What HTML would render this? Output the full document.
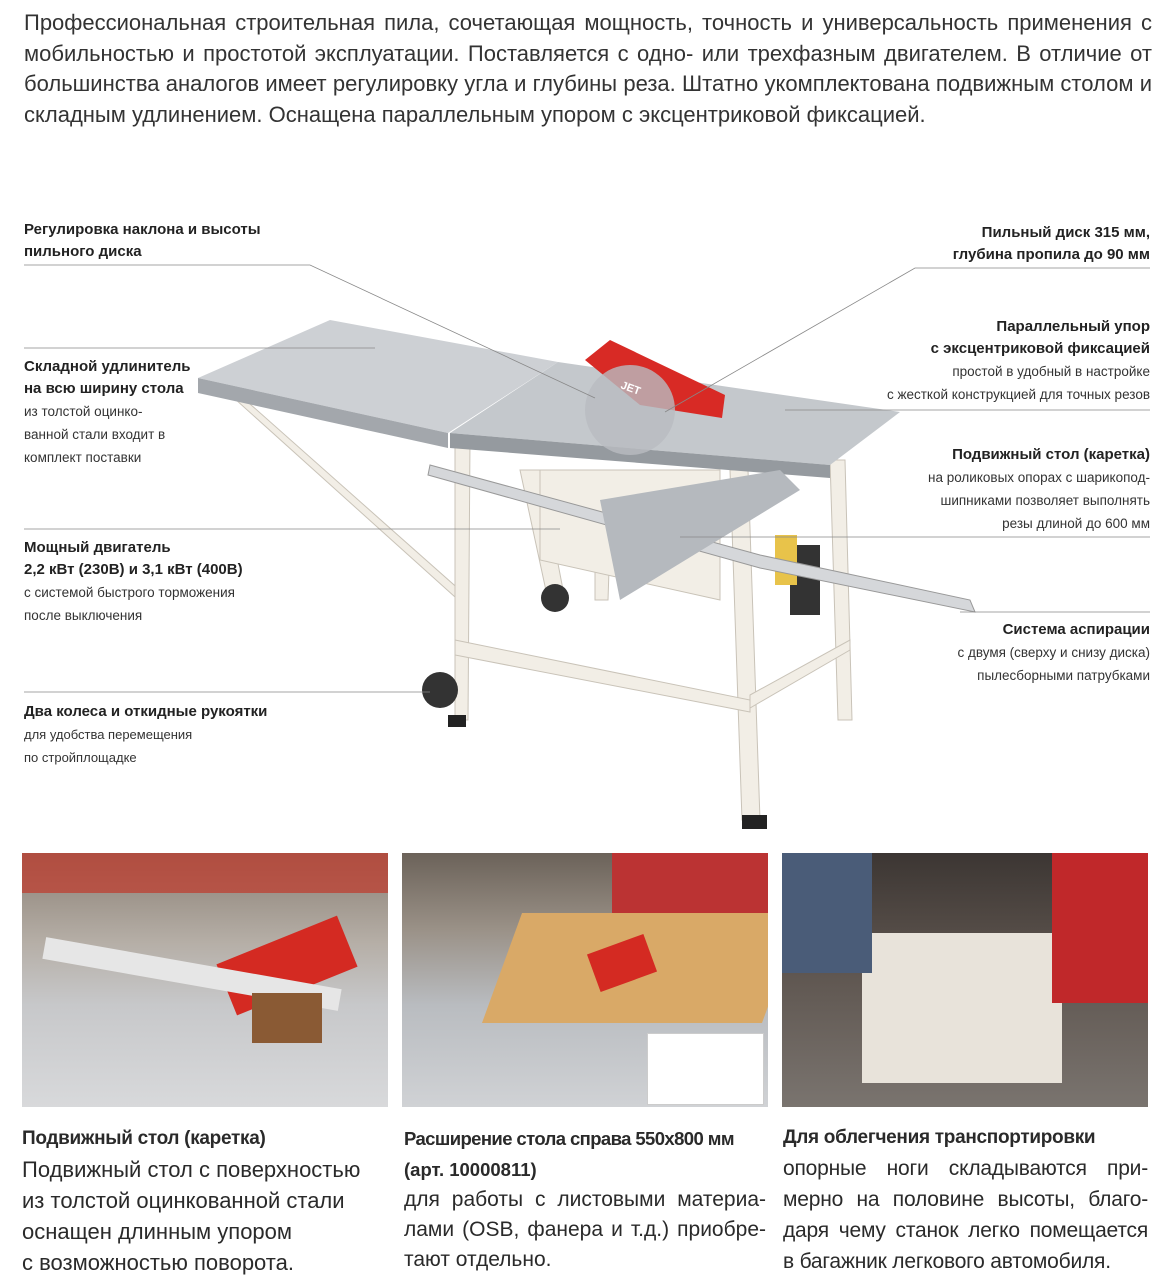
<!DOCTYPE html>
<html><head><meta charset="utf-8"><style>
body{margin:0;width:1172px;height:1282px;background:#fff;position:relative;overflow:hidden;font-family:"Liberation Sans",sans-serif;color:#2a2a2a}
.p{position:absolute;left:24px;width:1128px;font-size:22px;line-height:30.5px;color:#333;top:8px}
.p div{text-align:justify;text-align-last:justify;height:30.5px}
.p div.l{text-align-last:left}
.lab{position:absolute;font-size:15px;line-height:22px}
.lab b{font-weight:bold;color:#222}
.lab span{font-size:13.5px;color:#333;line-height:23px}
.r{text-align:right}
.ph{position:absolute;top:853px;height:254px;width:366px;overflow:hidden}
.cap{position:absolute;font-size:22px;line-height:31px;color:#2a2a2a}
.cap b{font-size:19px;white-space:nowrap}
.j div{text-align:justify;text-align-last:justify}
.j div.l{text-align-last:left}
</style></head><body>
<div class="p">
<div>Профессиональная строительная пила, сочетающая мощность, точность и универсальность применения с</div>
<div>мобильностью и простотой эксплуатации. Поставляется с одно- или трехфазным двигателем. В отличие от</div>
<div>большинства аналогов имеет регулировку угла и глубины реза. Штатно укомплектована подвижным столом и</div>
<div class="l">складным удлинением. Оснащена параллельным упором с эксцентриковой фиксацией.</div>
</div>

<svg width="1172" height="850" style="position:absolute;left:0;top:0">
<g fill="#f2eee6" stroke="#c9c3b8" stroke-width="1">
<polygon points="225,390 232,388 462,592 455,597"/>
<polygon points="455,440 470,440 468,720 455,720"/>
<polygon points="730,470 748,470 760,820 742,820"/>
<polygon points="830,460 845,460 852,720 838,720"/>
<polygon points="520,470 540,470 565,600 548,600"/>
<polygon points="455,640 750,700 750,712 455,655"/>
<polygon points="750,695 850,640 850,650 750,708"/>
<polygon points="595,540 610,540 608,600 595,600"/>
<polygon points="540,470 720,470 720,600 540,560"/>
</g>
<rect x="742" y="815" width="25" height="14" fill="#222"/>
<rect x="448" y="715" width="18" height="12" fill="#222"/>
<ellipse cx="440" cy="690" rx="18" ry="18" fill="#333"/>
<ellipse cx="555" cy="598" rx="14" ry="14" fill="#333"/>
<rect x="790" y="545" width="30" height="70" fill="#333"/>
<rect x="775" y="535" width="22" height="50" fill="#e8c34a"/>
<polygon points="198,378 330,320 558,362 448,433" fill="#cdd0d4"/>
<polygon points="198,378 448,433 448,448 198,393" fill="#a3a7ac"/>
<polygon points="450,433 558,362 900,412 830,465" fill="#c4c8cc"/>
<polygon points="450,433 830,465 830,478 450,448" fill="#959a9f"/>
<polygon points="430,465 760,555 970,600 975,612 760,568 428,475" fill="#d5d7da" stroke="#999"/>
<polygon points="600,500 780,470 800,490 620,600" fill="#b5b9be"/>
<polygon points="585,360 610,340 725,395 722,418 640,405" fill="#d82a25"/>
<circle cx="630" cy="410" r="45" fill="#b9bcc0" opacity=".8"/>
<text x="620" y="388" font-size="11" fill="#fff" font-weight="bold" transform="rotate(20 620 388)">JET</text>
<g stroke="#888" stroke-width="0.8" fill="none">
<polyline points="24,265 310,265 595,398"/>
<polyline points="1150,268 915,268 665,412"/>
<line x1="785" y1="410" x2="1150" y2="410"/>
<line x1="24" y1="348" x2="375" y2="348"/>
<line x1="680" y1="537" x2="1150" y2="537"/>
<line x1="24" y1="529" x2="560" y2="529"/>
<line x1="960" y1="612" x2="1150" y2="612"/>
<line x1="24" y1="692" x2="430" y2="692"/>
</g>
</svg>

<div class="lab" style="left:24px;top:219px"><b>Регулировка наклона и высоты<br>пильного диска</b></div>
<div class="lab" style="left:24px;top:356px"><b>Складной удлинитель<br>на всю ширину стола</b><br><span>из толстой оцинко-<br>ванной стали входит в<br>комплект поставки</span></div>
<div class="lab" style="left:24px;top:537px"><b>Мощный двигатель<br>2,2 кВт (230В) и 3,1 кВт (400В)</b><br><span>с системой быстрого торможения<br>после выключения</span></div>
<div class="lab" style="left:24px;top:701px"><b>Два колеса и откидные рукоятки</b><br><span style="font-size:13px">для удобства перемещения<br>по стройплощадке</span></div>
<div class="lab r" style="right:22px;top:222px"><b>Пильный диск 315 мм,<br>глубина пропила до 90 мм</b></div>
<div class="lab r" style="right:22px;top:316px"><b>Параллельный упор<br>с эксцентриковой фиксацией</b><br><span>простой в удобный в настройке<br>с жесткой конструкцией для точных резов</span></div>
<div class="lab r" style="right:22px;top:444px"><b>Подвижный стол (каретка)</b><br><span>на роликовых опорах с шарикопод-<br>шипниками позволяет выполнять<br>резы длиной до 600 мм</span></div>
<div class="lab r" style="right:22px;top:619px"><b>Система аспирации</b><br><span>с двумя (сверху и снизу диска)<br>пылесборными патрубками</span></div>

<div class="ph" style="left:22px;background:linear-gradient(180deg,#8a7f74 0%,#b5aea6 35%,#c7c8ca 60%,#d8d9db 100%)">
<div style="position:absolute;left:0;top:0;width:366px;height:40px;background:#c0392b;opacity:.7"></div>
<div style="position:absolute;left:200px;top:85px;width:130px;height:55px;background:#d42a22;transform:rotate(-22deg)"></div>
<div style="position:absolute;left:20px;top:110px;width:300px;height:22px;background:#e6e6e6;transform:rotate(10deg)"></div>
<div style="position:absolute;left:230px;top:140px;width:70px;height:50px;background:#8a5a34"></div>
</div>
<div class="ph" style="left:402px;background:linear-gradient(180deg,#6b6259 0%,#9a9187 30%,#b9bcc0 60%,#d0d2d5 100%)">
<div style="position:absolute;left:100px;top:60px;width:280px;height:110px;background:#d9a967;transform:skewX(-20deg)"></div>
<div style="position:absolute;left:190px;top:90px;width:60px;height:40px;background:#d42a22;transform:rotate(-20deg)"></div>
<div style="position:absolute;left:245px;top:180px;width:115px;height:70px;background:#fff;border:1px solid #ccc"></div>
<div style="position:absolute;left:210px;top:0;width:156px;height:60px;background:#b33"></div>
</div>
<div class="ph" style="left:782px;background:linear-gradient(180deg,#3c3633 0%,#5b524c 40%,#7a746f 100%)">
<div style="position:absolute;left:80px;top:80px;width:200px;height:150px;background:#e8e3da"></div>
<div style="position:absolute;left:270px;top:0;width:96px;height:150px;background:#c0282a"></div>
<div style="position:absolute;left:0;top:0;width:90px;height:120px;background:#4a5c78"></div>
</div>

<div class="cap" style="left:22px;top:1121px"><b style="letter-spacing:-0.3px">Подвижный стол (каретка)</b><br>Подвижный стол с поверхностью<br>из толстой оцинкованной стали<br>оснащен длинным упором<br>с возможностью поворота.</div>
<div class="cap j" style="left:404px;top:1123px;width:362px;line-height:30px"><b style="letter-spacing:-0.6px;font-size:18.5px">Расширение стола справа 550x800 мм</b><br><b style="font-size:18.5px">(арт. 10000811)</b>
<div style="font-size:21px">для работы с листовыми материа-</div><div style="font-size:21px">лами (OSB, фанера и т.д.) приобре-</div><div class="l" style="font-size:21px">тают отдельно.</div></div>
<div class="cap j" style="left:783px;top:1121px;width:365px;font-size:21px;letter-spacing:-0.2px"><b style="letter-spacing:-0.3px">Для облегчения транспортировки</b>
<div>опорные ноги складываются при-</div><div>мерно на половине высоты, благо-</div><div>даря чему станок легко помещается</div><div class="l">в багажник легкового автомобиля.</div></div>
</body></html>
